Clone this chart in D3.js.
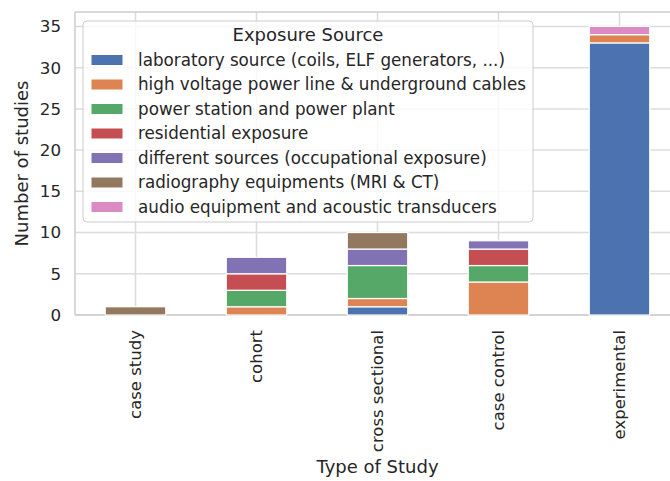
<!DOCTYPE html>
<html>
<head>
<meta charset="utf-8">
<script src="https://cdn.jsdelivr.net/npm/d3@7/dist/d3.min.js"></script>
<style>
  html, body { margin: 0; padding: 0; background: #fff; }
  text { font-family: "DejaVu Sans", sans-serif; fill: #262626; }
</style>
</head>
<body>
<svg id="chart" width="670" height="481"></svg>
<script>
const categories = ["case study", "cohort", "cross sectional", "case control", "experimental"];
const seriesNames = [
  "laboratory source (coils, ELF generators, ...)",
  "high voltage power line & underground cables",
  "power station and power plant",
  "residential exposure",
  "different sources (occupational exposure)",
  "radiography equipments (MRI & CT)",
  "audio equipment and acoustic transducers"
];
const laboratory   = [0, 0, 1, 0, 33];
const highVoltage  = [0, 1, 1, 4, 1];
const powerStation = [0, 2, 4, 2, 0];
const residential  = [0, 2, 0, 2, 0];
const different    = [0, 2, 2, 1, 0];
const radiography  = [1, 0, 2, 0, 0];
const audio        = [0, 0, 0, 0, 1];
const yTicks = [0, 5, 10, 15, 20, 25, 30, 35];
const colors = ["#4c72b0", "#dd8452", "#55a868", "#c44e52", "#8172b3", "#937860", "#da8bc3"];

const seriesValues = [laboratory, highVoltage, powerStation, residential, different, radiography, audio];
const table = categories.map((c, i) => {
  const row = { cat: c };
  seriesNames.forEach((s, j) => row[s] = seriesValues[j][i]);
  return row;
});

const svg = d3.select("#chart");
const mLeft = 75, mRight = 680, mTop = 12, mBottom = 315;

const x = d3.scaleBand().domain(categories).range([mLeft, mRight]).paddingInner(0.5).paddingOuter(0.25);
const y = d3.scaleLinear().domain([0, 36.75]).range([mBottom, mTop]);

// grid
const gridColor = "#dcdcdc";
svg.append("g").selectAll("line").data(yTicks).join("line")
  .attr("x1", mLeft).attr("x2", mRight)
  .attr("y1", d => y(d)).attr("y2", d => y(d))
  .attr("stroke", gridColor).attr("stroke-width", 1.5);
svg.append("g").selectAll("line").data(categories).join("line")
  .attr("x1", d => x(d) + x.bandwidth() / 2).attr("x2", d => x(d) + x.bandwidth() / 2)
  .attr("y1", mTop).attr("y2", mBottom)
  .attr("stroke", gridColor).attr("stroke-width", 1.5);

// spines
svg.append("line").attr("x1", mLeft).attr("x2", mLeft).attr("y1", mTop).attr("y2", mBottom).attr("stroke", "#cccccc").attr("stroke-width", 1.5);
svg.append("line").attr("x1", mLeft).attr("x2", mRight).attr("y1", mBottom).attr("y2", mBottom).attr("stroke", "#cccccc").attr("stroke-width", 1.5);
svg.append("line").attr("x1", mLeft).attr("x2", mRight).attr("y1", mTop).attr("y2", mTop).attr("stroke", "#cccccc").attr("stroke-width", 1.5);

// bars
const stack = d3.stack().keys(seriesNames)(table);
svg.append("g").selectAll("g").data(stack).join("g")
  .attr("fill", (d, i) => colors[i])
  .selectAll("rect").data(d => d.filter(p => p[1] - p[0] > 0)).join("rect")
  .attr("x", d => x(d.data.cat))
  .attr("width", x.bandwidth())
  .attr("y", d => y(d[1]))
  .attr("height", d => y(d[0]) - y(d[1]))
  .attr("stroke", "#fff").attr("stroke-width", 1.2);

// y axis
const yAxis = d3.axisLeft(y).tickValues(yTicks).tickSize(0).tickPadding(14);
const gy = svg.append("g").attr("transform", `translate(${mLeft},0)`).call(yAxis);
gy.select(".domain").remove();
gy.selectAll("text").style("font-size", "16.7px").style("font-family", "DejaVu Sans").attr("fill", "#262626");

// x axis
const xAxis = d3.axisBottom(x).tickSize(0).tickPadding(0);
const gx = svg.append("g").attr("transform", `translate(0,${mBottom})`).call(xAxis);
gx.select(".domain").remove();
gx.selectAll("text")
  .style("font-size", "16.5px").style("font-family", "DejaVu Sans").attr("fill", "#262626")
  .attr("transform", "rotate(-90)")
  .attr("x", -15).attr("y", 0).attr("dy", "0.35em")
  .attr("text-anchor", "end");

// axis labels
svg.append("text").attr("x", (mLeft + mRight) / 2).attr("y", 473)
  .attr("text-anchor", "middle").style("font-size", "18px").text("Type of Study");
svg.append("text").attr("transform", `translate(28,${(mTop + mBottom) / 2}) rotate(-90)`)
  .attr("text-anchor", "middle").style("font-size", "18px").text("Number of studies");

// legend
const lg = svg.append("g");
lg.append("rect").attr("x", 83).attr("y", 21).attr("width", 450).attr("height", 201)
  .attr("rx", 4).attr("fill", "#fff").attr("fill-opacity", 0.8)
  .attr("stroke", "#cccccc").attr("stroke-width", 1);
lg.append("text").attr("x", 308).attr("y", 41).attr("text-anchor", "middle")
  .style("font-size", "18px").text("Exposure Source");
const items = lg.selectAll("g.item").data(seriesNames).join("g").attr("class", "item")
  .attr("transform", (d, i) => `translate(0,${60 + i * 24.5})`);
items.append("rect").attr("x", 91).attr("y", -5.5).attr("width", 32).attr("height", 11)
  .attr("fill", (d, i) => colors[i]).attr("stroke", "#fff").attr("stroke-width", 1);
items.append("text").attr("x", 138).attr("y", 0).attr("dy", "0.35em")
  .style("font-size", "16.75px").text(d => d);
</script>
</body>
</html>
